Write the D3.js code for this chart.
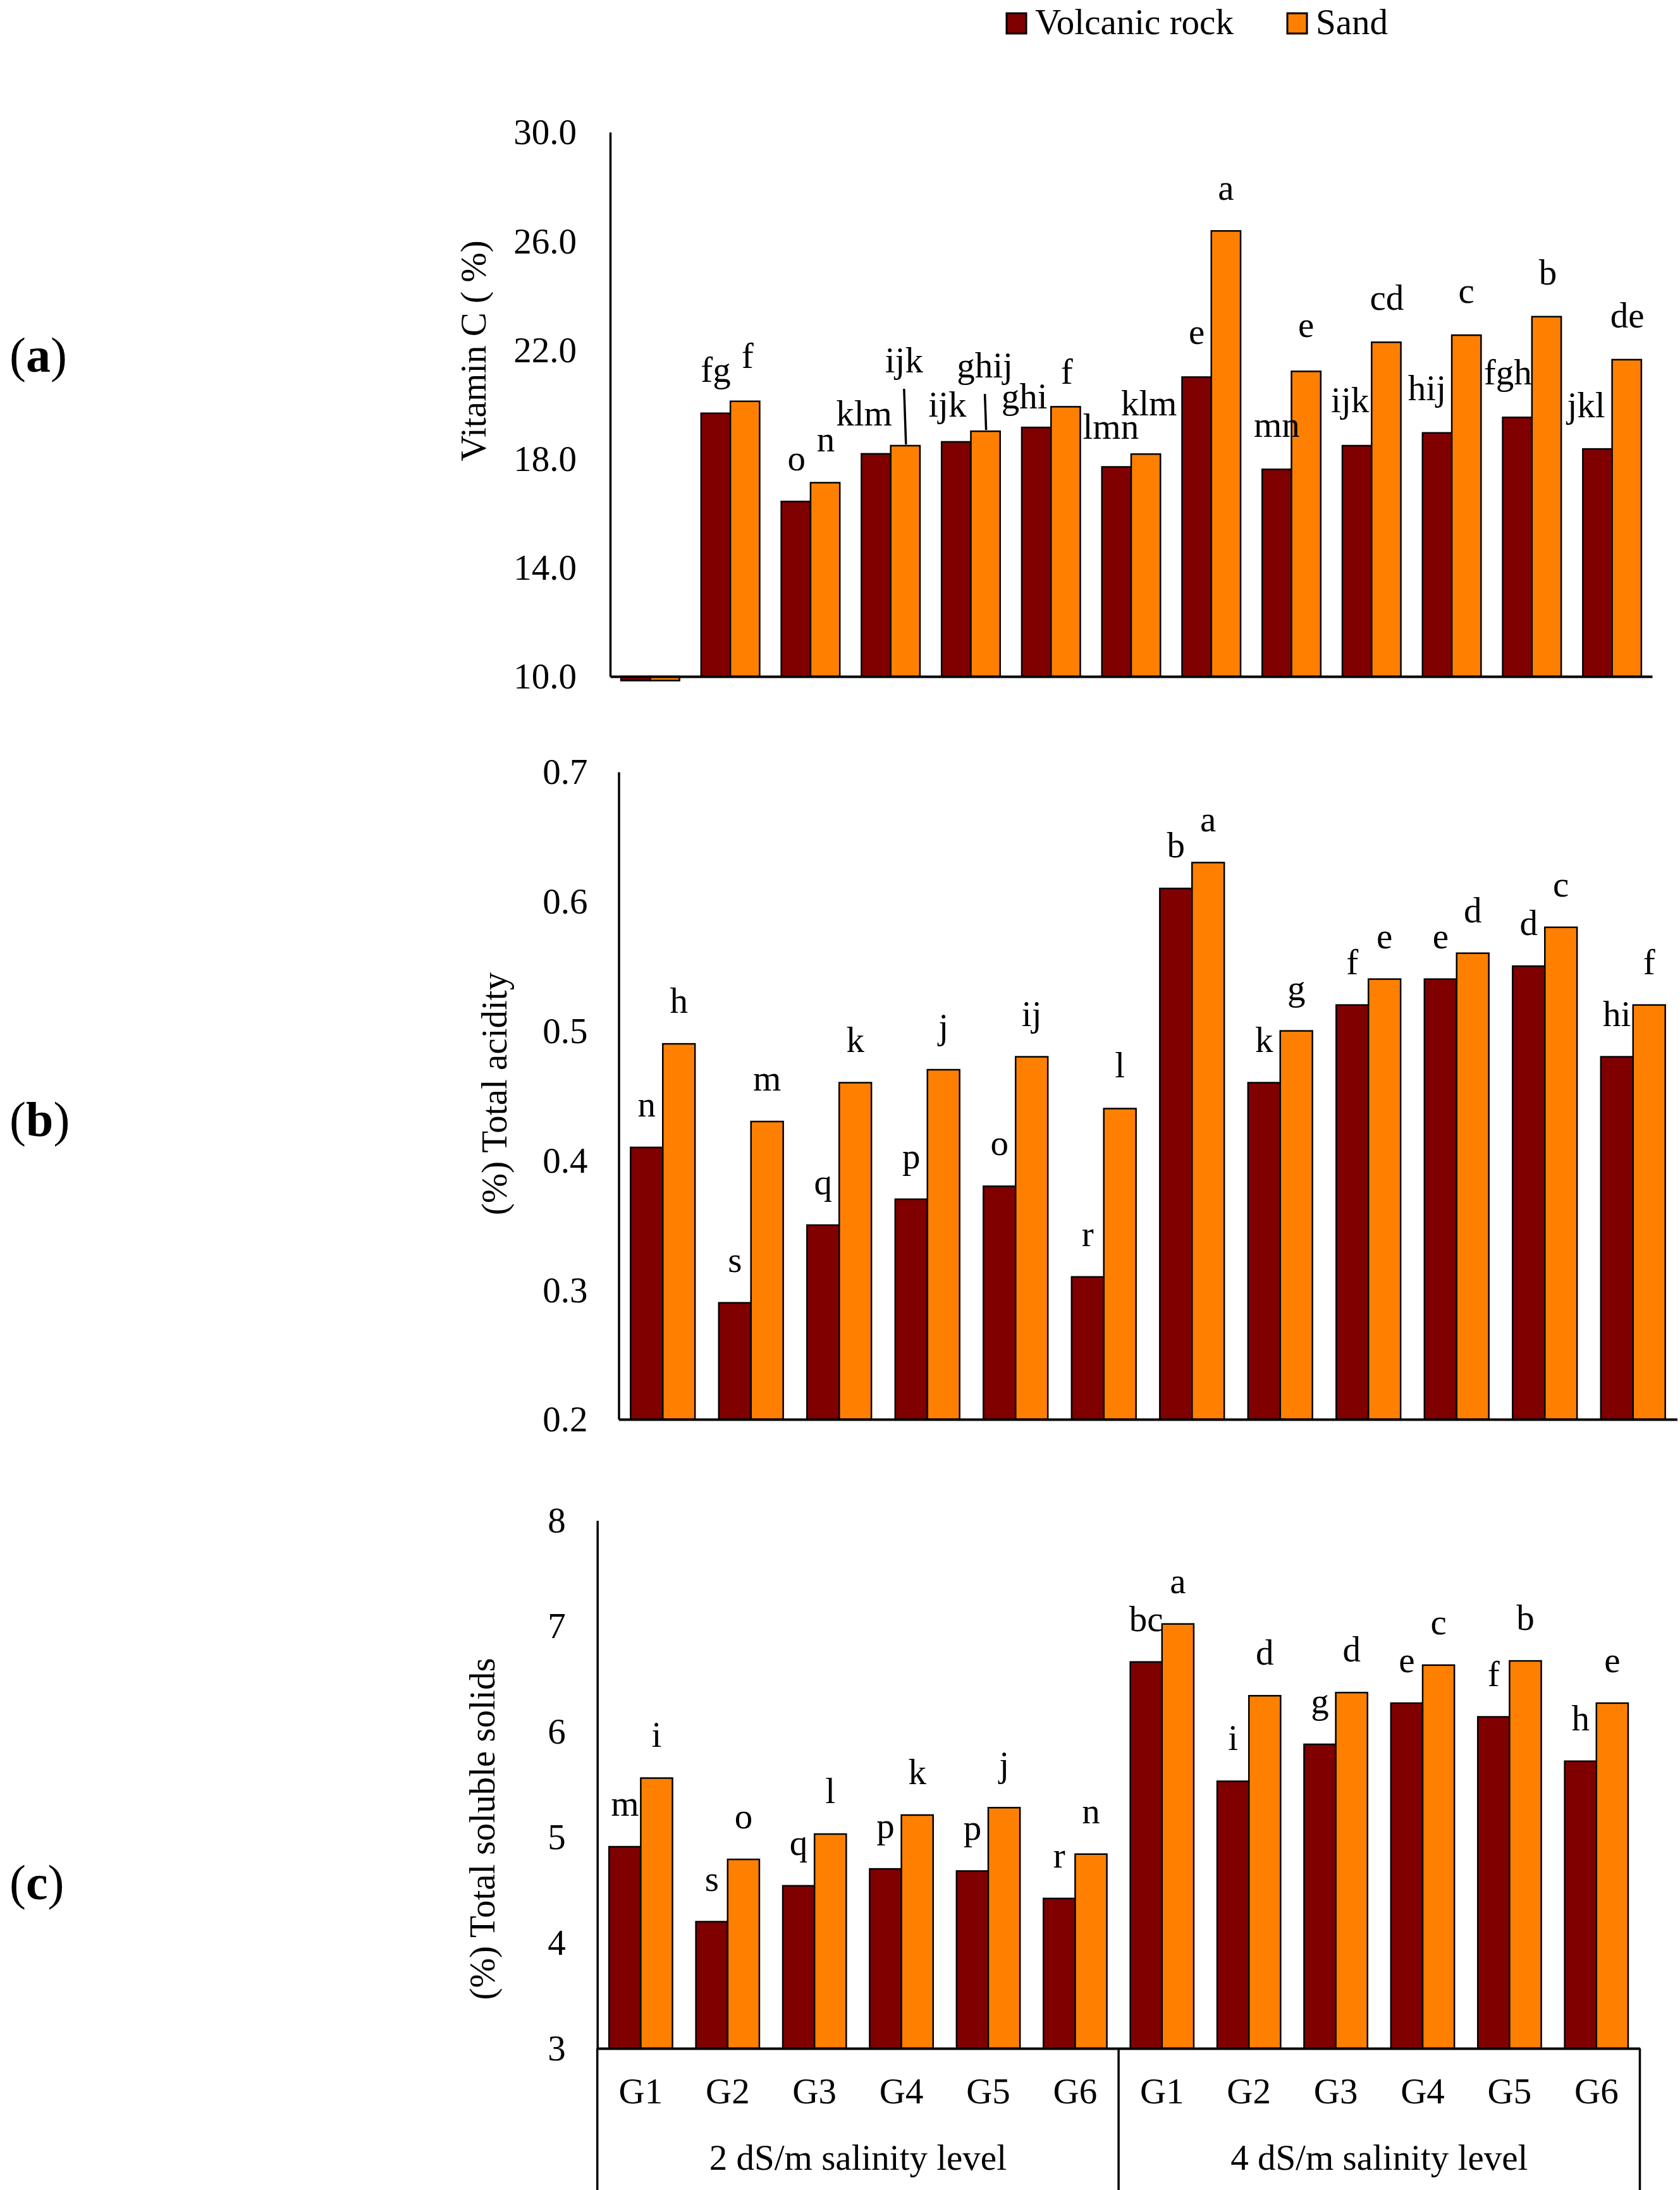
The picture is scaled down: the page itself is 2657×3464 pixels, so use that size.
<!DOCTYPE html>
<html>
<head>
<meta charset="utf-8">
<script src="https://cdn.jsdelivr.net/npm/d3@7"></script>
<style>
  html, body { margin: 0; padding: 0; background: #fff; }
  svg { display: block; }
  text { font-family: "Liberation Serif", "Times New Roman", serif; fill: #000; }
</style>
</head>
<body>
<script>
// ---------------- DATA ----------------
const seriesNames = ["Volcanic rock", "Sand"];
const groupNames = ["G1", "G2", "G3", "G4", "G5", "G6"];
const salinityLevels = ["2 dS/m salinity level", "4 dS/m salinity level"];

// Panel (a): Vitamin C (%) — 13 categories (first one near the axis minimum)
const catsA = ["C0", "2-G1", "2-G2", "2-G3", "2-G4", "2-G5", "2-G6", "4-G1", "4-G2", "4-G3", "4-G4", "4-G5", "4-G6"];
const vitCVolcanic = [9.85, 19.67, 16.43, 18.18, 18.62, 19.15, 17.70, 21.00, 17.61, 18.48, 18.95, 19.52, 18.36];
const vitCSand     = [9.85, 20.11, 17.12, 18.48, 19.01, 19.91, 18.17, 26.37, 21.21, 22.28, 22.54, 23.22, 21.64];
const vitCLabelsVolcanic = ["", "fg", "o", "klm", "ijk", "ghi", "lmn", "e", "mn", "ijk", "hij", "fgh", "jkl"];
const vitCLabelsSand     = ["", "f", "n", "ijk", "ghij", "f", "klm", "a", "e", "cd", "c", "b", "de"];
const vitCTicks = [10, 14, 18, 22, 26, 30];

// Panel (b): Total acidity (%)
const cats = ["2-G1", "2-G2", "2-G3", "2-G4", "2-G5", "2-G6", "4-G1", "4-G2", "4-G3", "4-G4", "4-G5", "4-G6"];
const acidVolcanic = [0.41, 0.29, 0.35, 0.37, 0.38, 0.31, 0.61, 0.46, 0.52, 0.54, 0.55, 0.48];
const acidSand     = [0.49, 0.43, 0.46, 0.47, 0.48, 0.44, 0.63, 0.50, 0.54, 0.56, 0.58, 0.52];
const acidLabelsVolcanic = ["n", "s", "q", "p", "o", "r", "b", "k", "f", "e", "d", "hi"];
const acidLabelsSand     = ["h", "m", "k", "j", "ij", "l", "a", "g", "e", "d", "c", "f"];
const acidTicks = [0.2, 0.3, 0.4, 0.5, 0.6, 0.7];

// Panel (c): Total soluble solids (%)
const tssVolcanic = [4.91, 4.20, 4.54, 4.70, 4.68, 4.42, 6.66, 5.53, 5.88, 6.27, 6.14, 5.72];
const tssSand     = [5.56, 4.79, 5.03, 5.21, 5.28, 4.84, 7.02, 6.34, 6.37, 6.63, 6.67, 6.27];
const tssLabelsVolcanic = ["m", "s", "q", "p", "p", "r", "bc", "i", "g", "e", "f", "h"];
const tssLabelsSand     = ["i", "o", "l", "k", "j", "n", "a", "d", "d", "c", "b", "e"];
const tssTicks = [3, 4, 5, 6, 7, 8];

// ---------------- LAYOUT (not data) ----------------
const W = 2657, H = 3464;
const FONT = 57;
const colors = { "Volcanic rock": "#800000", "Sand": "#FF8000" };
// manual label nudges in panel (a): [dx, gap above bar top]
const nudgeAVolc = [[0,50],[0,50],[1,49],[-19,45],[-14,40],[-19,30],[-9,45],[0,52],[0,51],[-11,53],[-16,52],[-15,52],[-18,50]];
const nudgeASand = [[0,50],[4,53],[1,49],[-2,116],[-1,85],[2,36],[5,61],[0,49],[0,54],[1,51],[0,51],[2,51],[1,51]];
const leaderA = [3, 4]; // sand labels with leader lines

const svg = d3.select("body").append("svg")
  .attr("width", W).attr("height", H)
  .attr("viewBox", `0 0 ${W} ${H}`);

// ---------------- LEGEND ----------------
const legendX = [1592, 2036];
seriesNames.forEach((s, i) => {
  svg.append("rect").attr("x", legendX[i]).attr("y", 21).attr("width", 31).attr("height", 32)
    .attr("fill", colors[s]).attr("stroke", "#000").attr("stroke-width", 3);
  svg.append("text").attr("x", legendX[i] + 45).attr("y", 54)
    .attr("font-size", FONT).text(s);
});

// ---------------- PANEL BUILDER ----------------
function panel(cfg) {
  const g = svg.append("g");
  const x = d3.scaleBand().domain(cfg.cats).range([cfg.x0, cfg.x1])
    .paddingInner(0.27).paddingOuter(0.135);
  const xi = d3.scaleBand().domain(seriesNames).range([0, x.bandwidth()]);
  const y = d3.scaleLinear().domain(cfg.domain).range([cfg.yBottom, cfg.yTop]);

  const rows = [];
  cfg.cats.forEach((c, i) => {
    rows.push({ c, i, s: seriesNames[0], v: cfg.volc[i], lab: cfg.labVolc[i], nudge: cfg.nudgeVolc ? cfg.nudgeVolc[i] : [0, 49] });
    rows.push({ c, i, s: seriesNames[1], v: cfg.sand[i], lab: cfg.labSand[i], nudge: cfg.nudgeSand ? cfg.nudgeSand[i] : [0, 49] });
  });

  const base = y(cfg.domain[0]);
  g.selectAll("rect.bar").data(rows).join("rect")
    .attr("class", "bar")
    .attr("x", d => x(d.c) + xi(d.s))
    .attr("width", xi.bandwidth())
    .attr("y", d => Math.min(y(d.v), base))
    .attr("height", d => Math.abs(base - y(d.v)))
    .attr("fill", d => colors[d.s])
    .attr("stroke", "#000").attr("stroke-width", 2.5);

  // labels
  g.selectAll("text.lab").data(rows.filter(d => d.lab)).join("text")
    .attr("class", "lab")
    .attr("x", d => x(d.c) + xi(d.s) + xi.bandwidth() / 2 + d.nudge[0])
    .attr("y", d => y(d.v) - d.nudge[1])
    .attr("text-anchor", "middle")
    .attr("font-size", FONT)
    .text(d => d.lab);

  if (cfg.leaders) {
    cfg.leaders.forEach(i => {
      const d = rows.find(r => r.i === i && r.s === seriesNames[1]);
      const cx = x(d.c) + xi(d.s) + xi.bandwidth() / 2;
      g.append("line")
        .attr("x1", cx + d.nudge[0]).attr("y1", y(d.v) - d.nudge[1] + 26)
        .attr("x2", cx + 1).attr("y2", y(d.v) - 2)
        .attr("stroke", "#000").attr("stroke-width", 3.5);
    });
  }

  // y axis
  const ya = g.append("g").attr("transform", `translate(${cfg.x0},0)`)
    .call(d3.axisLeft(y).tickValues(cfg.ticks).tickSize(0).tickSizeOuter(0)
      .tickPadding(cfg.tickPad).tickFormat(d3.format(cfg.fmt)));
  ya.select(".domain").attr("stroke", "#000").attr("stroke-width", 3.5);
  ya.selectAll(".tick text").attr("font-size", FONT)
    .attr("font-family", "Liberation Serif").attr("dy", "0.33em");

  // x axis line
  const xa = g.append("g").attr("transform", `translate(0,${cfg.yBottom})`)
    .call(d3.axisBottom(x).tickSize(0).tickSizeOuter(0).tickPadding(47)
      .tickFormat(cfg.showCats ? (c => c.split("-")[1]) : () => ""));
  xa.select(".domain").attr("stroke", "#000").attr("stroke-width", 4);
  xa.selectAll(".tick text").attr("font-size", FONT).attr("font-family", "Liberation Serif");

  // y title
  g.append("text")
    .attr("transform", `translate(${cfg.titleX},${cfg.titleY}) rotate(-90)`)
    .attr("text-anchor", "middle").attr("font-size", FONT)
    .text(cfg.title);

  // panel label
  const pl = g.append("text").attr("x", 15).attr("y", cfg.panelY).attr("font-size", 78);
  pl.append("tspan").text("(");
  pl.append("tspan").attr("font-weight", "bold").text(cfg.panelLetter);
  pl.append("tspan").text(")");

  return { x, y };
}

// Panel (a)
panel({
  cats: catsA, volc: vitCVolcanic, sand: vitCSand,
  labVolc: vitCLabelsVolcanic, labSand: vitCLabelsSand,
  nudgeVolc: nudgeAVolc, nudgeSand: nudgeASand, leaders: leaderA,
  x0: 965, x1: 2613, yTop: 209, yBottom: 1070, domain: [10, 30],
  ticks: vitCTicks, fmt: ".1f", tickPad: 53,
  title: "Vitamin C ( %)", titleX: 768, titleY: 555,
  panelLetter: "a", panelY: 588, showCats: false
});

// Panel (b)
panel({
  cats: cats, volc: acidVolcanic, sand: acidSand,
  labVolc: acidLabelsVolcanic, labSand: acidLabelsSand,
  x0: 978.5, x1: 2652.5, yTop: 1221, yBottom: 2245, domain: [0.2, 0.7],
  ticks: acidTicks, fmt: ".1f", tickPad: 49,
  title: "(%) Total acidity", titleX: 801, titleY: 1730,
  panelLetter: "b", panelY: 1797, showCats: false
});

// Panel (c)
const pc = panel({
  cats: cats, volc: tssVolcanic, sand: tssSand,
  labVolc: tssLabelsVolcanic, labSand: tssLabelsSand,
  x0: 944.7, x1: 2593.5, yTop: 2405, yBottom: 3240, domain: [3, 8],
  ticks: tssTicks, fmt: "d", tickPad: 50,
  title: "(%) Total soluble solids", titleX: 782, titleY: 2893,
  panelLetter: "c", panelY: 3004, showCats: true
});

// Multi-level category separators and salinity group labels for panel (c)
const xc = pc.x;
const step = xc.step();
const sepX = [xc(cats[0]) - step * 0.135, xc(cats[6]) - step * 0.135, xc(cats[11]) + xc.bandwidth() + step * 0.135];
sepX.forEach(sx => {
  svg.append("line").attr("x1", sx).attr("x2", sx).attr("y1", 3240).attr("y2", H)
    .attr("stroke", "#000").attr("stroke-width", 3.5);
});
salinityLevels.forEach((lab, i) => {
  svg.append("text").attr("x", (sepX[i] + sepX[i + 1]) / 2).attr("y", 3432)
    .attr("text-anchor", "middle").attr("font-size", FONT).text(lab);
});
</script>
</body>
</html>
